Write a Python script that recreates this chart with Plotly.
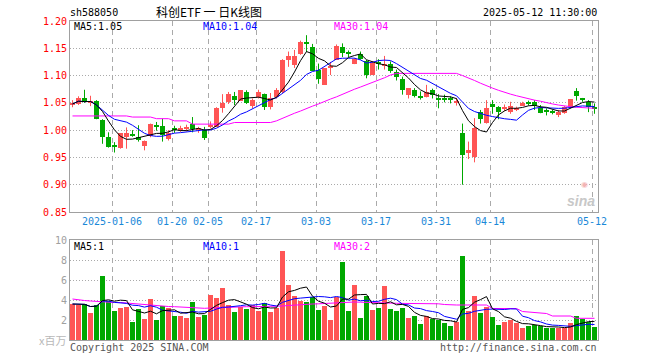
import plotly.graph_objects as go
import pandas as pd

# ---------------- data ----------------
opens = [1.047, 1.048, 1.059, 1.050, 1.053, 1.018, 0.987, 0.971, 0.968, 0.988,
         0.991, 0.988, 0.971, 0.989, 1.007, 1.008, 0.984, 1.002, 1.002, 1.003,
         1.012, 1.000, 1.001, 1.006, 1.006, 1.041, 1.052, 1.062, 1.054, 1.070,
         1.044, 1.060, 1.066, 1.042, 1.060, 1.069, 1.129, 1.120, 1.139, 1.159,
         1.152, 1.110, 1.083, 1.115, 1.129, 1.153, 1.142, 1.121, 1.139, 1.126,
         1.101, 1.124, 1.118, 1.121, 1.107, 1.093, 1.065, 1.074, 1.061, 1.060,
         1.073, 1.058, 1.058, 1.058, 1.049, 0.995, 0.958, 0.951, 1.034, 1.014,
         1.048, 1.042, 1.039, 1.034, 1.038, 1.045, 1.050, 1.052, 1.041, 1.035,
         1.033, 1.028, 1.031, 1.042, 1.071, 1.058, 1.052, 1.043]
highs = [1.055, 1.062, 1.074, 1.063, 1.055, 1.020, 0.996, 0.978, 0.994, 1.005,
         1.000, 1.009, 0.981, 1.012, 1.015, 1.021, 1.000, 1.008, 1.008, 1.010,
         1.024, 1.006, 1.006, 1.016, 1.042, 1.066, 1.070, 1.070, 1.073, 1.073,
         1.058, 1.074, 1.067, 1.068, 1.077, 1.130, 1.144, 1.147, 1.164, 1.174,
         1.158, 1.122, 1.113, 1.125, 1.157, 1.159, 1.146, 1.132, 1.144, 1.129,
         1.126, 1.130, 1.136, 1.126, 1.111, 1.098, 1.077, 1.077, 1.071, 1.083,
         1.076, 1.066, 1.065, 1.062, 1.059, 1.012, 0.979, 1.022, 1.037, 1.055,
         1.055, 1.044, 1.047, 1.052, 1.043, 1.052, 1.054, 1.055, 1.046, 1.040,
         1.038, 1.037, 1.044, 1.057, 1.077, 1.059, 1.055, 1.049]
lows = [1.042, 1.046, 1.050, 1.044, 1.020, 0.975, 0.968, 0.959, 0.966, 0.966,
        0.988, 0.979, 0.963, 0.987, 0.999, 0.979, 0.981, 0.995, 0.997, 0.998,
        0.996, 0.995, 0.982, 1.003, 1.006, 1.032, 1.048, 1.046, 1.054, 1.048,
        1.040, 1.058, 1.037, 1.038, 1.058, 1.068, 1.116, 1.114, 1.138, 1.143,
        1.109, 1.085, 1.083, 1.101, 1.129, 1.134, 1.134, 1.121, 1.129, 1.095,
        1.101, 1.111, 1.111, 1.105, 1.091, 1.065, 1.058, 1.060, 1.056, 1.060,
        1.058, 1.040, 1.051, 1.049, 1.045, 0.900, 0.947, 0.941, 1.012, 1.012,
        1.030, 1.020, 1.035, 1.030, 1.035, 1.045, 1.045, 1.037, 1.031, 1.027,
        1.029, 1.024, 1.030, 1.040, 1.054, 1.052, 1.033, 1.030]
closes = [1.048, 1.058, 1.051, 1.053, 1.021, 0.988, 0.970, 0.970, 0.994, 0.994,
          0.990, 0.982, 0.980, 1.012, 1.006, 0.991, 0.995, 1.001, 1.003, 1.006,
          1.002, 1.004, 0.985, 1.009, 1.040, 1.050, 1.067, 1.055, 1.073, 1.049,
          1.056, 1.069, 1.043, 1.059, 1.074, 1.129, 1.135, 1.136, 1.162, 1.158,
          1.109, 1.093, 1.113, 1.116, 1.154, 1.142, 1.141, 1.131, 1.130, 1.101,
          1.123, 1.123, 1.122, 1.109, 1.097, 1.073, 1.077, 1.062, 1.060, 1.069,
          1.065, 1.057, 1.057, 1.057, 1.053, 0.955, 0.964, 1.004, 1.020, 1.040,
          1.042, 1.034, 1.040, 1.045, 1.039, 1.050, 1.049, 1.044, 1.032, 1.034,
          1.032, 1.034, 1.043, 1.057, 1.062, 1.057, 1.043, 1.038]
volumes = [3.6, 3.5, 3.6, 2.7, 3.5, 6.4, 3.9, 2.9, 3.2, 3.3,
           1.8, 3.1, 2.1, 4.1, 2.0, 3.4, 3.2, 2.4, 2.4, 2.2,
           3.8, 2.3, 2.5, 4.5, 4.2, 5.2, 3.5, 2.8, 3.3, 3.1,
           3.5, 2.9, 3.7, 2.8, 3.2, 8.9, 5.5, 4.4, 3.9, 3.8,
           4.3, 3.0, 3.4, 2.0, 4.3, 7.8, 2.9, 5.5, 2.2, 4.4,
           3.0, 3.2, 5.4, 3.1, 2.9, 3.2, 2.2, 2.4, 1.6, 2.4,
           2.1, 2.0, 1.7, 1.4, 1.8, 8.4, 2.9, 4.4, 2.7, 3.3,
           2.3, 1.5, 1.8, 2.0, 1.7, 1.2, 1.4, 1.5, 1.4, 1.2,
           1.2, 1.2, 1.2, 1.7, 2.4, 2.1, 1.8, 1.3]
# up (red) / down (green) flags as drawn
up = [1, 1, 0, 1, 0, 0, 0, 0, 1, 1,
      0, 0, 1, 1, 0, 0, 1, 0, 1, 1,
      0, 1, 0, 1, 1, 1, 1, 0, 1, 0,
      1, 1, 0, 1, 1, 1, 1, 1, 1, 0,
      0, 0, 1, 1, 1, 0, 0, 1, 0, 0,
      1, 0, 1, 0, 0, 0, 1, 0, 0, 1,
      0, 0, 0, 0, 1, 0, 1, 1, 0, 1,
      0, 0, 1, 1, 1, 1, 0, 0, 0, 0,
      0, 1, 1, 1, 0, 0, 0, 0]
ma30_price = [1.026, 1.026, 1.026, 1.026, 1.026, 1.026, 1.026, 1.026, 1.026, 1.026,
              1.024, 1.024, 1.024, 1.024, 1.021, 1.021, 1.021, 1.017, 1.017, 1.017,
              1.011, 1.011, 1.011, 1.011, 1.011, 1.011, 1.011, 1.014, 1.014, 1.014,
              1.014, 1.014, 1.014, 1.014, 1.017, 1.022, 1.026, 1.031, 1.035, 1.040,
              1.044, 1.048, 1.053, 1.057, 1.061, 1.066, 1.070, 1.075, 1.079, 1.083,
              1.088, 1.092, 1.096, 1.101, 1.104, 1.104, 1.104, 1.104, 1.104, 1.104,
              1.104, 1.104, 1.104, 1.104, 1.104, 1.100, 1.096, 1.091, 1.086, 1.081,
              1.077, 1.073, 1.069, 1.066, 1.063, 1.060, 1.058, 1.055, 1.053, 1.050,
              1.048, 1.046, 1.044, 1.043, 1.042, 1.041, 1.041, 1.040]
ma30_volume = [4.10, 4.00, 3.95, 3.90, 3.85, 3.80, 3.80, 3.75, 3.75, 3.70,
               3.60, 3.60, 3.55, 3.50, 3.45, 3.40, 3.35, 3.33, 3.30, 3.25,
               3.20, 3.17, 3.17, 3.20, 3.23, 3.23, 3.25, 3.30, 3.33, 3.33,
               3.33, 3.33, 3.33, 3.33, 3.33, 3.40, 3.45, 3.50, 3.50, 3.55,
               3.60, 3.62, 3.65, 3.70, 3.75, 3.80, 3.80, 3.80, 3.78, 3.75,
               3.72, 3.70, 3.68, 3.67, 3.67, 3.66, 3.65, 3.65, 3.65, 3.65,
               3.65, 3.62, 3.55, 3.50, 3.50, 3.50, 3.50, 3.50, 3.50, 3.50,
               3.15, 3.15, 3.15, 3.15, 3.15, 2.85, 2.80, 2.75, 2.70, 2.65,
               2.40, 2.40, 2.40, 2.40, 2.17, 2.17, 2.17, 2.17]
tick_index = [7, 17, 23, 31, 41, 51, 61, 70, 87]
tick_labels = ["2025-01-06", "01-20", "02-05", "02-17", "03-03",
               "03-17", "03-31", "04-14", "05-12"]

# ---------------- derived ----------------
n = len(closes)
idx = list(range(n))
ma5 = pd.Series(closes).rolling(5, min_periods=1).mean().tolist()
ma10 = pd.Series(closes).rolling(10, min_periods=1).mean().tolist()
vma5 = pd.Series(volumes).rolling(5, min_periods=1).mean().tolist()
vma10 = pd.Series(volumes).rolling(10, min_periods=1).mean().tolist()

RED = "#ff5555"
GREEN = "#00a800"
colors = [RED if u else GREEN for u in up]

W, H = 660, 360
def px(x):
    return x / W
def py(y):
    return 1 - y / H

MONO = "DejaVu Sans Mono"
fig = go.Figure()

# wicks
for flag, col in ((1, RED), (0, GREEN)):
    xs, ys = [], []
    for i in idx:
        if up[i] == flag:
            xs += [i, i, None]
            ys += [lows[i], highs[i], None]
    fig.add_trace(go.Scatter(x=xs, y=ys, mode="lines", line=dict(color=col, width=1),
                             xaxis="x", yaxis="y", hoverinfo="skip"))

# bodies
base = [min(o, c) for o, c in zip(opens, closes)]
height = [max(abs(c - o), 0.0019) for o, c in zip(opens, closes)]
fig.add_trace(go.Bar(x=idx, y=height, base=base, width=0.8333,
                     marker=dict(color=colors, line=dict(width=0)),
                     xaxis="x", yaxis="y", hoverinfo="skip"))

# price MAs
fig.add_trace(go.Scatter(x=idx, y=ma30_price, mode="lines", line=dict(color="#ff00ff", width=1),
                         xaxis="x", yaxis="y"))
fig.add_trace(go.Scatter(x=idx, y=ma10, mode="lines", line=dict(color="#0000ff", width=1),
                         xaxis="x", yaxis="y"))
fig.add_trace(go.Scatter(x=idx, y=ma5, mode="lines", line=dict(color="#000000", width=1),
                         xaxis="x", yaxis="y"))

# volume
fig.add_trace(go.Bar(x=idx, y=volumes, width=0.8333,
                     marker=dict(color=colors, line=dict(width=0)),
                     xaxis="x2", yaxis="y2", hoverinfo="skip"))
fig.add_trace(go.Scatter(x=idx, y=ma30_volume, mode="lines", line=dict(color="#ff00ff", width=1),
                         xaxis="x2", yaxis="y2"))
fig.add_trace(go.Scatter(x=idx, y=vma10, mode="lines", line=dict(color="#0000ff", width=1),
                         xaxis="x2", yaxis="y2"))
fig.add_trace(go.Scatter(x=idx, y=vma5, mode="lines", line=dict(color="#000000", width=1),
                         xaxis="x2", yaxis="y2"))

xdom = [px(70), px(597.5)]
xrange_ = [-0.4167, 87.5]
gridx = [t - 0.4167 for t in tick_index]
axcommon = dict(showline=True, mirror=True, linecolor="#a0a0a0", linewidth=1,
                zeroline=False, fixedrange=True, automargin=False)

fig.update_layout(
    width=W, height=H, margin=dict(l=0, r=0, t=0, b=0, pad=0, autoexpand=False),
    paper_bgcolor="white", plot_bgcolor="white", showlegend=False,
    bargap=0,
    xaxis=dict(domain=xdom, range=xrange_, anchor="y", tickmode="array",
               tickvals=gridx, ticktext=tick_labels, showgrid=True,
               gridcolor="#aaaaaa", griddash="5px,4px", gridwidth=1,
               tickfont=dict(family=MONO, size=10, color="#1a88d8"), ticks="",
               **axcommon),
    xaxis2=dict(domain=xdom, range=xrange_, anchor="y2", tickmode="array",
                tickvals=gridx, showticklabels=False, showgrid=True,
                gridcolor="#aaaaaa", griddash="5px,4px", gridwidth=1, ticks="",
                **axcommon),
    yaxis=dict(domain=[py(212), py(21)], range=[0.85, 1.20], anchor="x",
               tickmode="array", tickvals=[0.85, 0.90, 0.95, 1.00, 1.05, 1.10, 1.15, 1.20],
               tickformat=".2f", showgrid=True, gridcolor="#aaaaaa", griddash="1px,2px",
               tickfont=dict(family=MONO, size=10, color="#ff0000"), ticks="",
               **axcommon),
    yaxis2=dict(domain=[py(340), py(240)], range=[0, 10], anchor="x2",
                tickmode="array", tickvals=[2, 4, 6, 8, 10], showgrid=True,
                gridcolor="#aaaaaa", griddash="1px,2px",
                tickfont=dict(family=MONO, size=10, color="#a0a0a0"), ticks="",
                **axcommon),
)

def text(t, x, y, color="#000", anchor="left", size=10, family=MONO, **kw):
    fig.add_annotation(text=t, x=px(x), y=py(y), xref="paper", yref="paper",
                       xanchor=anchor, yanchor="middle", showarrow=False,
                       borderpad=0, font=dict(family=family, size=size, color=color), **kw)

text("sh588050", 69, 13)
text("科创ETF 一 日K线图", 209, 12, anchor="center", size=12, family="Noto Sans CJK SC")
text("2025-05-12 11:30:00", 598, 13, anchor="right")
text("MA5:1.05", 73, 27)
text("MA10:1.04", 202, 27, color="#0000ff")
text("MA30:1.04", 333, 27, color="#ff00ff")
text("MA5:1", 73, 246)
text("MA10:1", 202, 246, color="#0000ff")
text("MA30:2", 333, 246, color="#ff00ff")
text("x百万", 67, 340, color="#b8b8b8", anchor="right", size=11, family="Noto Sans CJK SC")
text("Copyright 2025 SINA.COM", 69, 347, color="#555555")
text("http://finance.sina.com.cn", 598, 347, color="#555555", anchor="right")
text("◉", 584, 185, color="#f3b4b4", anchor="center", size=8, family="DejaVu Sans")
text("<b><i>sina</i></b>", 581, 201, color="#c8c8c8", anchor="center", size=14, family="Arial")

fig.write_html(
    "out.html",
    config={"displayModeBar": False, "responsive": False},
    post_script="document.body.style.margin='0px';"
                "document.documentElement.style.overflow='hidden';"
                "document.body.style.overflow='hidden';",
)
